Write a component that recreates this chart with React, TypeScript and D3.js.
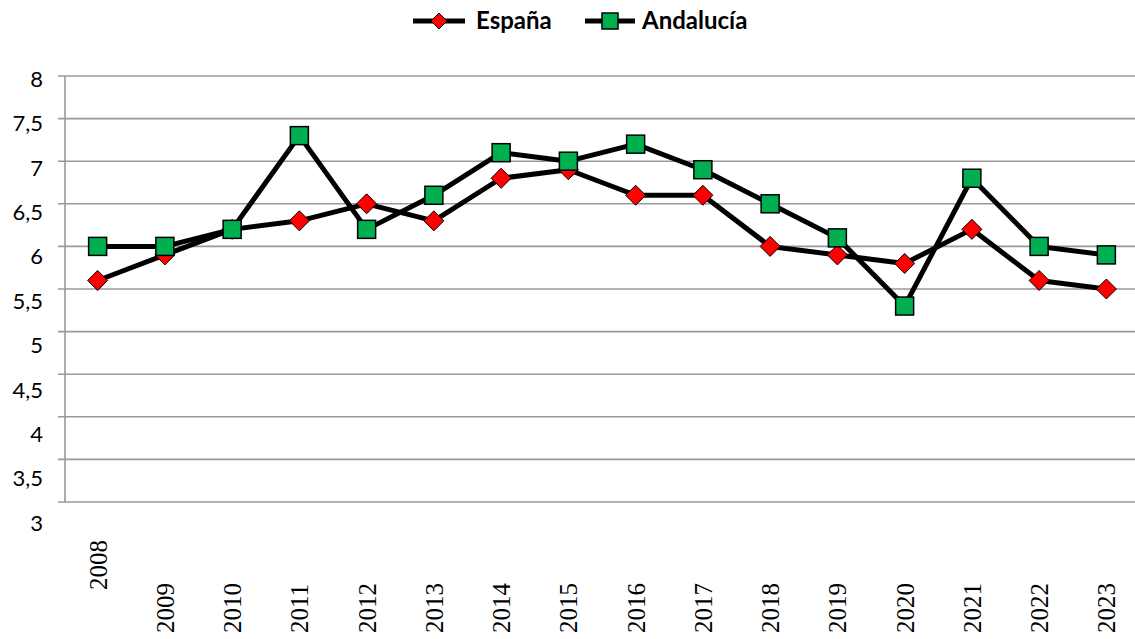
import React from "react";
import * as d3 from "d3";

const years = ["2008","2009","2010","2011","2012","2013","2014","2015","2016","2017","2018","2019","2020","2021","2022","2023"];
const espana = [5.6,5.9,6.2,6.3,6.5,6.3,6.8,6.9,6.6,6.6,6.0,5.9,5.8,6.2,5.6,5.5];
const andalucia = [6.0,6.0,6.2,7.3,6.2,6.6,7.1,7.0,7.2,6.9,6.5,6.1,5.3,6.8,6.0,5.9];
const yTicks = [3,3.5,4,4.5,5,5.5,6,6.5,7,7.5,8];

const W = 1135, H = 639;
const left = 64, right = 1140, top = 76, bottom = 502;

export default function App() {
  const x = d3.scaleBand<string>().domain(years).range([left, right]);
  const y = d3.scaleLinear().domain([3, 8]).range([bottom, top]);
  const yLab = d3.scaleLinear().domain([3, 8]).range([523, 79]);
  const cx = (yr: string) => (x(yr) as number) + x.bandwidth() / 2;
  const line = d3.line<number>().x((_, i) => cx(years[i])).y(d => y(d));
  const fmt = (v: number) => String(v).replace(".", ",");
  const diamond = (px: number, py: number, r = 10) => `M${px},${py - r}L${px + r},${py}L${px},${py + r}L${px - r},${py}Z`;
  const sans = "Lato, 'Open Sans', sans-serif";
  const serif = "'Liberation Serif', 'DejaVu Serif', serif";
  return (
    <svg width={W} height={H} style={{ position: "absolute", left: 0, top: 0 }}>
      <rect width={W} height={H} fill="#fff" />
      {yTicks.map(t => (
        <line key={t} x1={58} x2={W} y1={y(t)} y2={y(t)} stroke="#999" strokeWidth={1.6} />
      ))}
      <line x1={65} x2={65} y1={top} y2={bottom} stroke="#999" strokeWidth={1.6} />
      {yTicks.map(t => (
        <text key={t} x={43} y={yLab(t)} dy="0.35em" textAnchor="end" fontFamily={sans} fontSize={22} fill="#000">{fmt(t)}</text>
      ))}
      {years.map((yr, i) => (
        <text key={yr} transform={`translate(${cx(yr) + 9},${i === 0 ? 590 : 633}) rotate(-90)`} fontFamily={serif} fontSize={25} fill="#000">{yr}</text>
      ))}
      <path d={line(espana) || ""} fill="none" stroke="#000" strokeWidth={5} strokeLinejoin="round" />
      <path d={line(andalucia) || ""} fill="none" stroke="#000" strokeWidth={5} strokeLinejoin="round" />
      {espana.map((v, i) => (
        <path key={"e" + i} d={diamond(cx(years[i]), y(v))} fill="#ff0000" stroke="#000" strokeWidth={1} />
      ))}
      {andalucia.map((v, i) => (
        <rect key={"a" + i} x={cx(years[i]) - 9} y={y(v) - 9} width={18} height={18} fill="#00b050" stroke="#000" strokeWidth={1.5} />
      ))}
      {/* legend */}
      <line x1={413} x2={465} y1={21} y2={21} stroke="#000" strokeWidth={5} />
      <path d={diamond(439, 21, 8)} fill="#ff0000" stroke="#000" strokeWidth={1} />
      <text x={476} y={21} dy="0.35em" fontFamily={sans} fontWeight="bold" fontSize={24} fill="#000">España</text>
      <line x1={585} x2={635} y1={21} y2={21} stroke="#000" strokeWidth={5} />
      <rect x={602} y={13} width={16} height={16} fill="#00b050" stroke="#000" strokeWidth={1.5} />
      <text x={642} y={21} dy="0.35em" fontFamily={sans} fontWeight="bold" fontSize={24} fill="#000">Andalucía</text>
    </svg>
  );
}
